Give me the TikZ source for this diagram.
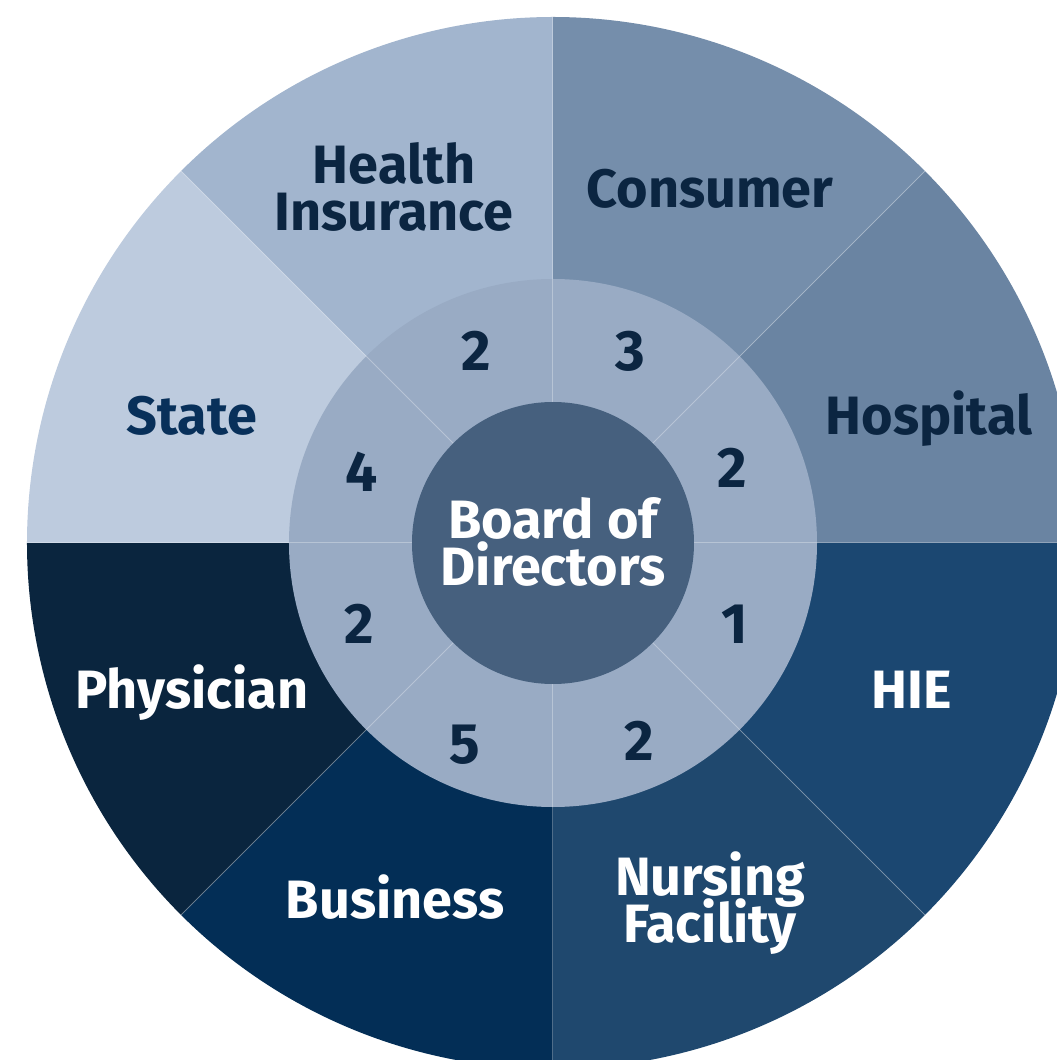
\documentclass[tikz,border=0pt]{standalone}
\usepackage{fontspec}
\setmainfont{Fira Sans}[BoldFont={Fira Sans Bold}]
\definecolor{cState}{HTML}{BDCBDE}
\definecolor{cHI}{HTML}{A2B5CE}
\definecolor{cCons}{HTML}{758EAB}
\definecolor{cHosp}{HTML}{6A84A2}
\definecolor{cHIE}{HTML}{1B4771}
\definecolor{cNurs}{HTML}{1F486E}
\definecolor{cBus}{HTML}{032E56}
\definecolor{cPhys}{HTML}{0A253E}
\definecolor{cRing}{HTML}{99ABC4}
\definecolor{cCenter}{HTML}{46607E}
\definecolor{cDark}{HTML}{0B2541}
\definecolor{cStateTxt}{HTML}{08305A}
\newcommand\mytightlines{\lineskiplimit=-100pt\relax\lineskip=0pt\relax}
\begin{document}
\begin{tikzpicture}[x=1pt,y=1pt,
  lab/.style={anchor=base,inner sep=0pt,font=\fontsize{54}{47}\selectfont\bfseries},
  twolab/.style={lab,anchor=center,align=center,execute at begin node=\mytightlines},
  darklab/.style={lab,text=cDark},
  lightlab/.style={lab,text=white},
  numlab/.style={darklab,font=\fontsize{57}{64}\selectfont\bfseries},
  sepline/.style={draw=white,draw opacity=0.3,line width=1pt}]
\useasboundingbox (-553,-517) rectangle (504,543);
\clip (-553,-517) rectangle (504,543);
\def\R{526}
\foreach \a/\c in {45/cCons,0/cHosp,-45/cHIE,-90/cNurs,-135/cBus,180/cPhys,135/cState,90/cHI}
  \fill[\c] (0,0) -- (\a:\R) arc[start angle=\a,delta angle=45,radius=\R] -- cycle;
\fill[cRing] (0,0) circle (264);
\foreach \a in {0,45,...,315}
  \draw[sepline] (0,0) -- (\a:\R);
\fill[cCenter] (0,0) circle (141);
% outer labels (x = px-553, y = 543-baseline)
\node[darklab,twolab] (hi) at (-159,356) {Health\\Insurance};
\node[darklab] (cons) at (157,335) {Consumer};
\node[darklab] (hosp) at (376,108) {Hospital};
\node[darklab,text=cStateTxt] (state) at (-361,108) {State};
\node[lightlab] (phys) at (-361,-165) {Physician};
\node[lightlab] (hie) at (359,-165) {HIE};
\node[lightlab,twolab] (nurs) at (157,-360) {Nursing\\Facility};
\node[lightlab] (bus) at (-158,-375) {Business};
% centre
\node[lightlab,twolab] (bod) at (0,1) {Board of\\Directors};
% ring numbers
\node[numlab] (n1) at (-77,172) {2};
\node[numlab] (n2) at (77,172) {3};
\node[numlab] (n3) at (179,55) {2};
\node[numlab] (n4) at (182,-100) {1};
\node[numlab] (n5) at (86,-217) {2};
\node[numlab] (n6) at (-88,-220) {5};
\node[numlab] (n7) at (-194,-100) {2};
\node[numlab] (n8) at (-191,51) {4};
\end{tikzpicture}
\end{document}
